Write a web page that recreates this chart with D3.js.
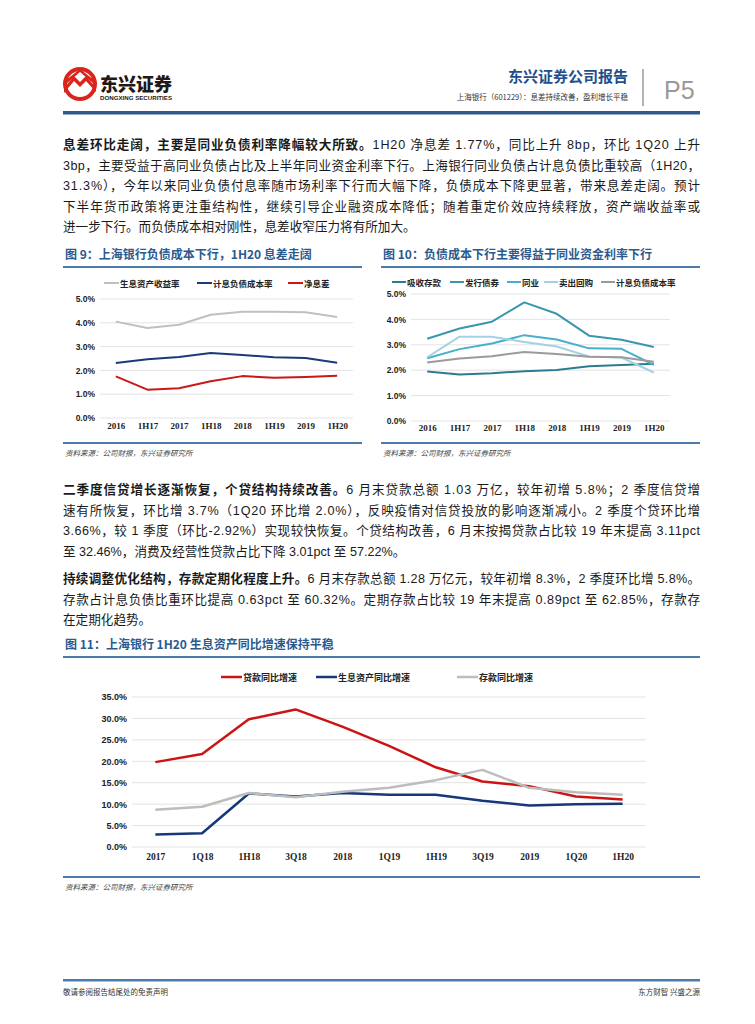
<!DOCTYPE html>
<html><head><meta charset="utf-8">
<script src="https://cdn.jsdelivr.net/npm/d3@7"></script>
<style>
html,body{margin:0;padding:0;background:#fff;}
svg{display:block;}
</style></head>
<body>
<svg id="page" width="755" height="1024"></svg>
<script>
// ---------- DATA ----------
const c9Categories = ["2016","1H17","2017","1H18","2018","1H19","2019","1H20"];
const c9Yield   = [4.05,3.78,3.92,4.34,4.46,4.46,4.44,4.24];
const c9Cost    = [2.31,2.47,2.56,2.73,2.65,2.55,2.52,2.32];
const c9Nim     = [1.75,1.19,1.25,1.54,1.76,1.69,1.72,1.77];
const c9Names   = ["生息资产收益率","计息负债成本率","净息差"];
const c9Ticks   = [0,1,2,3,4,5];

const c10Categories = ["2016","1H17","2017","1H18","2018","1H19","2019","1H20"];
const c10Deposit  = [1.95,1.83,1.88,1.96,2.01,2.16,2.20,2.25];
const c10Bond     = [3.24,3.64,3.91,4.67,4.22,3.36,3.20,2.91];
const c10Interbank= [2.47,2.83,3.05,3.38,3.21,2.86,2.84,2.21];
const c10Repo     = [2.51,3.32,3.32,3.11,2.93,2.54,2.50,1.91];
const c10Cost     = [2.30,2.46,2.55,2.72,2.64,2.53,2.51,2.33];
const c10Names    = ["吸收存款","发行债券","同业","卖出回购","计息负债成本率"];
const c10Ticks    = [0,1,2,3,4,5];

const c11Categories = ["2017","1Q18","1H18","3Q18","2018","1Q19","1H19","3Q19","2019","1Q20","1H20"];
const c11Loan    = [19.8,21.7,29.8,32.1,28.1,23.6,18.6,15.3,14.2,11.8,11.1];
const c11Asset   = [2.9,3.2,12.5,11.8,12.6,12.2,12.2,10.8,9.7,10.0,10.1];
const c11Deposit = [8.7,9.4,12.6,11.6,12.9,13.8,15.6,18.0,13.8,12.8,12.2];
const c11Names   = ["贷款同比增速","生息资产同比增速","存款同比增速"];
const c11Ticks   = [0,5,10,15,20,25,30,35];

// ---------- PAGE ----------
const svg = d3.select("#page");
const CJK = "'Noto Sans CJK SC','Noto Sans',sans-serif";
const MIX = "'Liberation Sans','Noto Sans CJK SC',sans-serif";
const BLUE = "#2c5a8c";

// Logo
const logo = svg.append("g");
logo.append("circle").attr("cx",80).attr("cy",84).attr("r",17).attr("fill","#d9251c");
logo.append("circle").attr("cx",80).attr("cy",84).attr("r",13).attr("fill","#fff");
logo.append("path").attr("d","M64,88 L74,76 L80,82 L86,76 L96,88 L96,92 L86,81 L80,87 L74,81 L64,93 Z").attr("fill","#d9251c");
logo.append("path").attr("d","M66,84 L80,72 L94,84 L94,80 L80,69 L66,80 Z").attr("fill","#d9251c");
logo.append("text").attr("x",100).attr("y",91).attr("font-family",CJK).attr("font-weight",900)
  .attr("font-size",18).attr("fill","#231815").text("东兴证券");
logo.append("text").attr("x",100).attr("y",100).attr("font-family","'Liberation Sans',sans-serif").attr("font-weight",700)
  .attr("font-size",5.6).attr("fill","#231815").attr("textLength",72).attr("lengthAdjust","spacingAndGlyphs").text("DONGXING SECURITIES");

// Header right
svg.append("text").attr("x",628).attr("y",82).attr("text-anchor","end").attr("font-family",CJK).attr("font-weight",700)
  .attr("font-size",15).attr("fill","#1f4e8c").text("东兴证券公司报告");
svg.append("text").attr("x",628).attr("y",100).attr("text-anchor","end").attr("font-family",CJK)
  .attr("font-size",7.5).attr("fill","#333").text("上海银行（601229）：息差持续改善，盈利增长平稳");
svg.append("line").attr("x1",643).attr("x2",643).attr("y1",69).attr("y2",106).attr("stroke","#9a9a9a").attr("stroke-width",1.5);
svg.append("text").attr("x",664).attr("y",99).attr("font-family","'Liberation Sans',sans-serif")
  .attr("font-size",25).attr("fill","#9a9a9a").text("P5");
svg.append("rect").attr("x",63).attr("y",111).attr("width",637).attr("height",3.5).attr("fill",BLUE);

// Paragraph helper
function para(lines, y0, lh){
  lines.forEach((ln,i)=>{
    const t = svg.append("text").attr("x",63).attr("y",y0+i*lh).attr("font-family",MIX)
      .attr("font-size",12.6).attr("fill","#1a1a1a");
    if(ln.justify){ t.attr("textLength",637).attr("lengthAdjust","spacing"); }
    ln.parts.forEach(p=>{
      t.append("tspan").attr("font-weight",p.b?700:400).text(p.t);
    });
  });
}
para([
 {justify:true, parts:[{b:1,t:"息差环比走阔，主要是同业负债利率降幅较大所致。"},{t:"1H20 净息差 1.77%，同比上升 8bp，环比 1Q20 上升"}]},
 {justify:true, parts:[{t:"3bp，主要受益于高同业负债占比及上半年同业资金利率下行。上海银行同业负债占计息负债比重较高（1H20，"}]},
 {justify:true, parts:[{t:"31.3%），今年以来同业负债付息率随市场利率下行而大幅下降，负债成本下降更显著，带来息差走阔。预计"}]},
 {justify:true, parts:[{t:"下半年货币政策将更注重结构性，继续引导企业融资成本降低；随着重定价效应持续释放，资产端收益率或"}]},
 {justify:false, parts:[{t:"进一步下行。而负债成本相对刚性，息差收窄压力将有所加大。"}]}
], 149, 20.5);

para([
 {justify:true, parts:[{b:1,t:"二季度信贷增长逐渐恢复，个贷结构持续改善。"},{t:"6 月末贷款总额 1.03 万亿，较年初增 5.8%；2 季度信贷增"}]},
 {justify:true, parts:[{t:"速有所恢复，环比增 3.7%（1Q20 环比增 2.0%），反映疫情对信贷投放的影响逐渐减小。2 季度个贷环比增"}]},
 {justify:true, parts:[{t:"3.66%，较 1 季度（环比-2.92%）实现较快恢复。个贷结构改善，6 月末按揭贷款占比较 19 年末提高 3.11pct"}]},
 {justify:false, parts:[{t:"至 32.46%，消费及经营性贷款占比下降 3.01pct 至 57.22%。"}]}
], 494, 20.5);

para([
 {justify:true, parts:[{b:1,t:"持续调整优化结构，存款定期化程度上升。"},{t:"6 月末存款总额 1.28 万亿元，较年初增 8.3%，2 季度环比增 5.8%。"}]},
 {justify:true, parts:[{t:"存款占计息负债比重环比提高 0.63pct 至 60.32%。定期存款占比较 19 年末提高 0.89pct 至 62.85%，存款存"}]},
 {justify:false, parts:[{t:"在定期化趋势。"}]}
], 583, 20.5);

// Chart frame helper
function frame(x0, x1, titleY, title, bottomY){
  svg.append("text").attr("x",x0+2).attr("y",titleY).attr("font-family",CJK).attr("font-weight",700)
    .attr("font-size",12).attr("fill","#2a5a8e").text(title);
  svg.append("rect").attr("x",x0).attr("y",titleY+7).attr("width",x1-x0).attr("height",2).attr("fill","#4a7bab");
  svg.append("rect").attr("x",x0).attr("y",bottomY).attr("width",x1-x0).attr("height",2).attr("fill","#4a7bab");
  svg.append("text").attr("x",x0+2).attr("y",bottomY+14).attr("font-family",CJK).attr("font-style","italic")
    .attr("font-size",7.5).attr("fill","#444").text("资料来源：公司财报，东兴证券研究所");
}

function lineChart(cfg){
  const g = svg.append("g");
  const x = d3.scalePoint().domain(cfg.categories).range(cfg.xr).padding(0.5);
  const y = d3.scaleLinear().domain([cfg.ticks[0], cfg.ticks[cfg.ticks.length-1]]).range(cfg.yr);
  // grid
  g.selectAll(".grid").data(cfg.ticks).join("line")
    .attr("x1",cfg.xr[0]).attr("x2",cfg.xr[1]).attr("y1",d=>y(d)).attr("y2",d=>y(d))
    .attr("stroke","#e3e3e3").attr("stroke-width",1);
  // y axis
  const ya = d3.axisLeft(y).tickValues(cfg.ticks).tickSize(0).tickPadding(0).tickFormat(d=>d3.format(".1f")(d)+"%");
  const yg = g.append("g").attr("transform",`translate(${cfg.xr[0]-5},0)`).call(ya);
  yg.select(".domain").remove();
  yg.selectAll("text").attr("font-family","'Liberation Sans Narrow','Liberation Sans',sans-serif").attr("font-weight",700)
    .attr("font-size",cfg.fs).attr("fill","#222");
  // x axis
  const xa = d3.axisBottom(x).tickSize(0).tickPadding(0);
  const xg = g.append("g").attr("transform",`translate(0,${cfg.xlabY})`).call(xa);
  xg.select(".domain").remove();
  xg.selectAll("text").attr("font-family","'Liberation Serif',serif").attr("font-weight",700)
    .attr("font-size",cfg.fs+0.5).attr("fill","#222");
  // lines
  const line = d3.line().x((d,i)=>x(cfg.categories[i])).y(d=>y(d));
  cfg.series.forEach(s=>{
    g.append("path").datum(s.values).attr("d",line).attr("fill","none")
      .attr("stroke",s.color).attr("stroke-width",cfg.lw).attr("stroke-linejoin","round");
  });
  // legend
  cfg.series.forEach((s,i)=>{
    const lx = cfg.legendX[i];
    g.append("line").attr("x1",lx).attr("x2",lx+cfg.legLen).attr("y1",cfg.legendY).attr("y2",cfg.legendY)
      .attr("stroke",s.color).attr("stroke-width",cfg.lw);
    g.append("text").attr("x",lx+cfg.legLen+1).attr("y",cfg.legendY+3.5).attr("font-family",CJK).attr("font-weight",700)
      .attr("font-size",cfg.fs).attr("fill","#222").text(s.name);
  });
}

// Chart 9
frame(63, 362, 259, "图 9：上海银行负债成本下行，1H20 息差走阔", 442);
lineChart({
  categories:c9Categories, ticks:c9Ticks, xr:[100,353], yr:[418,299], xlabY:423, fs:8.5, lw:2,
  series:[
    {name:c9Names[0], values:c9Yield, color:"#c0c0c0"},
    {name:c9Names[1], values:c9Cost, color:"#1b3a78"},
    {name:c9Names[2], values:c9Nim, color:"#c81818"}
  ],
  legendX:[104,197,288], legendY:283, legLen:15
});

// Chart 10
frame(381, 700, 259, "图 10：负债成本下行主要得益于同业资金利率下行", 442);
lineChart({
  categories:c10Categories, ticks:c10Ticks, xr:[411,670], yr:[421,294], xlabY:425, fs:8.5, lw:2,
  series:[
    {name:c10Names[0], values:c10Deposit, color:"#2a7d90"},
    {name:c10Names[1], values:c10Bond, color:"#3897ae"},
    {name:c10Names[2], values:c10Interbank, color:"#46afc9"},
    {name:c10Names[3], values:c10Repo, color:"#a3d2e3"},
    {name:c10Names[4], values:c10Cost, color:"#9b9b9b"}
  ],
  legendX:[392,450,507,544,601], legendY:282, legLen:14
});

// Chart 11
frame(63, 700, 649, "图 11：上海银行 1H20 生息资产同比增速保持平稳", 876);
lineChart({
  categories:c11Categories, ticks:c11Ticks, xr:[132,646], yr:[847,697], xlabY:853, fs:9, lw:2.5,
  series:[
    {name:c11Names[0], values:c11Loan, color:"#cc1414"},
    {name:c11Names[1], values:c11Asset, color:"#173878"},
    {name:c11Names[2], values:c11Deposit, color:"#bdbdbd"}
  ],
  legendX:[221,316,457], legendY:677, legLen:21
});

// Footer
svg.append("rect").attr("x",63).attr("y",979).attr("width",637).attr("height",2.5).attr("fill","#4a7bab");
svg.append("text").attr("x",63).attr("y",995).attr("font-family",CJK).attr("font-size",7.5).attr("fill","#333").text("敬请参阅报告结尾处的免责声明");
svg.append("text").attr("x",700).attr("y",995).attr("text-anchor","end").attr("font-family",CJK).attr("font-size",7.5).attr("fill","#333").text("东方财智 兴盛之源");
</script>
</body></html>
